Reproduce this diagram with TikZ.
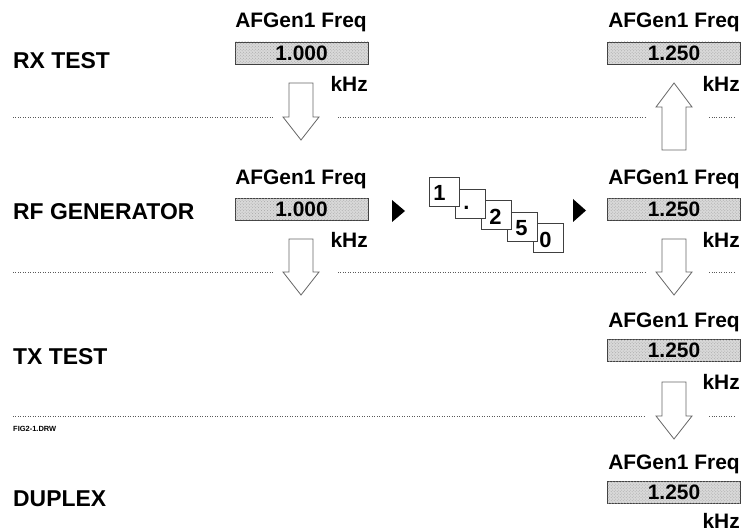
\documentclass[tikz,border=0pt]{standalone}
\usepackage{fontspec}
\setmainfont{Liberation Sans}
\usetikzlibrary{patterns}
\newcommand\blkdown[4]{% cx, shaft top, head base, tip
  \draw[blk] (#1-12,#2) -- (#1+12,#2) -- (#1+12,#3) -- (#1+18,#3) -- (#1,#4) -- (#1-18,#3) -- (#1-12,#3) -- cycle;}
\newcommand\blkup[4]{% cx, shaft bottom, head base, tip
  \draw[blk] (#1-12,#2) -- (#1+12,#2) -- (#1+12,#3) -- (#1+18,#3) -- (#1,#4) -- (#1-18,#3) -- (#1-12,#3) -- cycle;}
\begin{document}
\begin{tikzpicture}[x=1bp,y=-1bp,
  lbl/.style={font=\fontsize{23}{23}\selectfont\bfseries, anchor=base west, inner sep=0},
  head/.style={font=\fontsize{21}{21}\selectfont\bfseries, anchor=base, inner sep=0},
  val/.style={draw=black!75, line width=0.6bp, fill=black!15, postaction={pattern=crosshatch dots, pattern color=black!35},
    minimum width=133bp, minimum height=22bp, inner sep=0, font=\fontsize{21}{21}\selectfont\bfseries},
  unit/.style={font=\fontsize{21}{21}\selectfont\bfseries, anchor=base east, inner sep=0},
  sep/.style={draw=black!65, dotted, line width=0.5bp},
  blk/.style={draw=black!60, line width=0.8bp, fill=white},
  key/.style={draw=black!75, fill=white, line width=0.7bp, minimum width=30bp, minimum height=29bp, inner sep=0, anchor=north west},
  keytxt/.style={font=\fontsize{22}{22}\selectfont\bfseries, inner sep=0},
  tri/.style={fill=black, draw=none}
]
\useasboundingbox (0,0) rectangle (744,532);

% ---------- separators ----------
\coordinate (s1a) at (13,117);  \coordinate (s1b) at (273,117);
\coordinate (s1c) at (338,117); \coordinate (s1d) at (645,117);
\coordinate (s1e) at (709,117); \coordinate (s1f) at (735,117);
\draw[sep] (s1a) -- (s1b);  \draw[sep] (s1c) -- (s1d);  \draw[sep] (s1e) -- (s1f);
\coordinate (s2a) at (13,272);  \coordinate (s2b) at (273,272);
\coordinate (s2c) at (338,272); \coordinate (s2d) at (645,272);
\coordinate (s2e) at (709,272); \coordinate (s2f) at (735,272);
\draw[sep] (s2a) -- (s2b);  \draw[sep] (s2c) -- (s2d);  \draw[sep] (s2e) -- (s2f);
\coordinate (s3a) at (13,416);  \coordinate (s3b) at (645,416);
\coordinate (s3c) at (709,416); \coordinate (s3d) at (735,416);
\draw[sep] (s3a) -- (s3b);  \draw[sep] (s3c) -- (s3d);

% ---------- row labels ----------
\node[lbl] (rx) at (13,69) {RX TEST};
\node[lbl] (rf) at (13,220) {RF GENERATOR};
\node[lbl] (tx) at (13,364) {TX TEST};
\node[lbl] (dp) at (13,506) {DUPLEX};
\node[font=\fontsize{7.5}{7.5}\selectfont\bfseries, anchor=base west, inner sep=0] (fig) at (13,431) {FIG2-1.DRW};

% ---------- row 1 ----------
\node[head] (h1l) at (301,28) {AFGen1 Freq};
\node[val]  (v1l) at (301.5,53) {1.000};
\node[unit] (u1l) at (368,92) {kHz};
\node[head] (h1r) at (674,28) {AFGen1 Freq};
\node[val]  (v1r) at (674,53) {1.250};
\node[unit] (u1r) at (740,92) {kHz};

% ---------- row 2 ----------
\node[head] (h2l) at (301,185) {AFGen1 Freq};
\node[val]  (v2l) at (301.5,209.5) {1.000};
\node[unit] (u2l) at (368,248) {kHz};
\node[head] (h2r) at (674,185) {AFGen1 Freq};
\node[val]  (v2r) at (674,209.5) {1.250};
\node[unit] (u2r) at (740,248) {kHz};

% ---------- row 3 ----------
\node[head] (h3r) at (674,327) {AFGen1 Freq};
\node[val]  (v3r) at (674,350) {1.250};
\node[unit] (u3r) at (740,389) {kHz};

% ---------- row 4 ----------
\node[head] (h4r) at (674,469) {AFGen1 Freq};
\node[val]  (v4r) at (674,492) {1.250};
\node[unit] (u4r) at (740,528) {kHz};

% ---------- block arrows ----------
\blkdown{301}{83}{117}{140}
\blkup{674}{150}{107}{83}
\blkdown{301}{239}{272}{295}
\blkdown{674}{239}{272}{295}
\blkdown{674}{382}{416}{439}

% ---------- keys ----------
\node[key] (k5) at (533,223) {};
\node[key] (k4) at (507,212) {};
\node[key] (k3) at (481,200) {};
\node[key] (k2) at (455,189) {};
\node[key] (k1) at (429,177) {};
\node[keytxt] (t1) at ([xshift=-5bp,yshift=-1bp]k1.center) {1};
\node[keytxt] (t2) at ([xshift=-4bp,yshift=-4bp]k2.center) {.};
\node[keytxt] (t3) at ([xshift=-1bp,yshift=-2bp]k3.center) {2};
\node[keytxt] (t4) at ([xshift=-1bp,yshift=-1bp]k4.center) {5};
\node[keytxt] (t5) at ([xshift=-3bp,yshift=-2bp]k5.center) {0};

% ---------- play triangles ----------
\fill[tri] (392,200) -- (405,211) -- (392,222) -- cycle;
\fill[tri] (573,199) -- (586,210.5) -- (573,222) -- cycle;
\end{tikzpicture}
\end{document}
